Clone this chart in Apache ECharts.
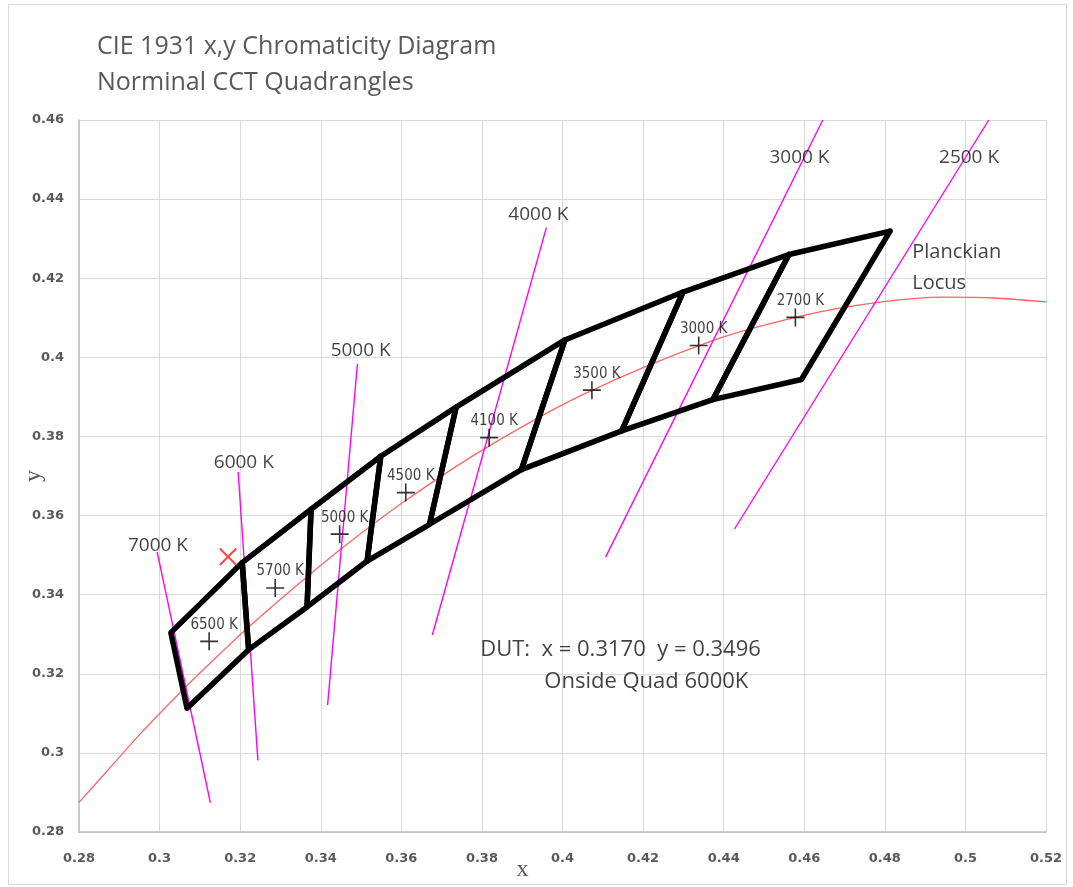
<!DOCTYPE html>
<html><head><meta charset="utf-8">
<script src="https://cdn.jsdelivr.net/npm/echarts@6/dist/echarts.min.js"></script>
<style>html,body{margin:0;padding:0;background:#fff}#c{width:1073px;height:887px}</style>
</head><body><div id="c"></div><script>
// ---- data ----
const titleLines = ['CIE 1931 x,y Chromaticity Diagram', 'Norminal CCT Quadrangles'];
const xRange = [0.28, 0.52, 0.02];
const yRange = [0.28, 0.46, 0.02];

// Planckian locus (x, y)
const locusX = [0.2800, 0.2867, 0.2952, 0.3064, 0.3135, 0.3221, 0.3325, 0.3451, 0.3608, 0.3805, 0.4053, 0.4369, 0.4599, 0.4770, 0.4950, 0.5070, 0.5200];
const locusY = [0.2875, 0.2951, 0.3048, 0.3166, 0.3236, 0.3318, 0.3410, 0.3516, 0.3636, 0.3768, 0.3907, 0.4041, 0.4106, 0.4137, 0.4152, 0.4150, 0.4140];

// Nominal CCT quadrangles (corners TR, TL, BL, BR)
const quadNames = ['6500 K', '5700 K', '5000 K', '4500 K', '4100 K', '3500 K', '3000 K', '2700 K'];
const quadCorners = [
  [[0.3205, 0.3481], [0.3028, 0.3304], [0.3068, 0.3113], [0.3221, 0.3261]],
  [[0.3376, 0.3616], [0.3205, 0.3481], [0.3221, 0.3261], [0.3366, 0.3369]],
  [[0.3549, 0.3750], [0.3376, 0.3616], [0.3366, 0.3369], [0.3515, 0.3485]],
  [[0.3736, 0.3874], [0.3549, 0.3750], [0.3515, 0.3485], [0.3670, 0.3578]],
  [[0.4006, 0.4044], [0.3736, 0.3874], [0.3670, 0.3578], [0.3898, 0.3716]],
  [[0.4299, 0.4165], [0.4006, 0.4044], [0.3898, 0.3716], [0.4147, 0.3814]],
  [[0.4562, 0.4260], [0.4299, 0.4165], [0.4147, 0.3814], [0.4373, 0.3893]],
  [[0.4813, 0.4319], [0.4562, 0.4260], [0.4373, 0.3893], [0.4593, 0.3944]]
];
const quadCenterX = [0.3123, 0.3287, 0.3447, 0.3611, 0.3818, 0.4073, 0.4338, 0.4578];
const quadCenterY = [0.3282, 0.3417, 0.3553, 0.3658, 0.3797, 0.3917, 0.4030, 0.4101];

// Isotherm lines
const isoNames = ['7000 K', '6000 K', '5000 K', '4000 K', '3000 K', '2500 K'];
const isoTopX = [0.2994, 0.3195, 0.3491, 0.3960, 0.4646, 0.5058];
const isoTopY = [0.3508, 0.3710, 0.3983, 0.4328, 0.4600, 0.4600];
const isoBotX = [0.3126, 0.3244, 0.3417, 0.3677, 0.4107, 0.4427];
const isoBotY = [0.2874, 0.2981, 0.3121, 0.3298, 0.3495, 0.3566];
const isoLabelX = [0.2996, 0.3209, 0.3499, 0.3940, 0.4588, 0.5009];
const isoLabelY = [0.3525, 0.3735, 0.4018, 0.4362, 0.4506, 0.4506];

// Device under test
const dutX = 0.3170, dutY = 0.3496;
const dutLines = ['DUT:  x = 0.3170  y = 0.3496', 'Onside Quad 6000K'];
const dutLabelX = [0.4144, 0.4208];
const dutLabelY = [0.3262, 0.3180];
const locusLabel = 'Planckian\nLocus';
const locusLabelX = 0.4868, locusLabelY = 0.4226;

// ---- chart ----
const PLUS = 'path://M8.2,0H9.8V8.2H18V9.8H9.8V18H8.2V9.8H0V8.2H8.2Z';
const CROSS = 'path://M0,1.6L1.6,0L9.5,7.9L17.4,0L19,1.6L11.1,9.5L19,17.4L17.4,19L9.5,11.1L1.6,19L0,17.4L7.9,9.5Z';
const fmt = v => String(parseFloat(v.toFixed(2)));
const txtFont = "'Open Sans', 'Liberation Sans', sans-serif";
const tickFont = "'DejaVu Sans', Verdana, sans-serif";

const series = [];
series.push({
  type: 'line', name: 'locus', data: locusX.map((x, i) => [x, locusY[i]]),
  smooth: 0.3, symbol: 'none', z: 2, silent: true,
  lineStyle: { color: '#ff6464', width: 1.3 }
});
isoNames.forEach((n, i) => series.push({
  type: 'line', name: 'iso ' + n, data: [[isoTopX[i], isoTopY[i]], [isoBotX[i], isoBotY[i]]],
  symbol: 'none', z: 3, silent: true,
  lineStyle: { color: '#ff00ff', width: 1.4 }
}));
quadCorners.forEach((q, i) => series.push({
  type: 'line', name: 'quad ' + quadNames[i], data: q.concat([q[0]]),
  symbol: 'none', z: 4, silent: true,
  lineStyle: { color: '#000', width: 5.5, join: 'round', cap: 'round' }
}));
series.push({
  type: 'scatter', name: 'centers', z: 6, silent: true,
  data: quadCenterX.map((x, i) => ({ value: [x, quadCenterY[i]], name: quadNames[i] })),
  symbol: PLUS, symbolSize: 18, itemStyle: { color: '#000' },
  label: { show: true, position: 'top', distance: 0, offset: [5, 0], formatter: p => p.name,
    fontFamily: "'Liberation Sans Narrow', 'DejaVu Sans Condensed', 'Roboto Condensed', sans-serif",
    fontSize: 15, color: '#111' }
});
series.push({
  type: 'scatter', name: 'DUT', z: 7, silent: true, data: [[dutX, dutY]],
  symbol: CROSS, symbolSize: 18, itemStyle: { color: '#ff1a1a' }
});
const textPts = [];
isoNames.forEach((n, i) => textPts.push({ value: [isoLabelX[i], isoLabelY[i]], name: n, label: { fontSize: 19 } }));
dutLines.forEach((t, i) => textPts.push({ value: [dutLabelX[i], dutLabelY[i]], name: t, label: { fontSize: 22 } }));
textPts.push({ value: [locusLabelX, locusLabelY], name: locusLabel, label: { fontSize: 20, align: 'left', lineHeight: 31 } });
series.push({
  type: 'scatter', name: 'texts', z: 8, silent: true, symbolSize: 0, data: textPts,
  label: { show: true, position: 'inside', formatter: p => p.name, color: '#111', fontFamily: txtFont }
});

const chart = echarts.init(document.getElementById('c'), null, { renderer: 'canvas' });
chart.setOption({
  animation: false,
  backgroundColor: '#fff',
  title: {
    text: titleLines.join('\n'), left: 97, top: 29, padding: 0,
    textStyle: { fontFamily: txtFont, fontSize: 25, fontWeight: 'normal', color: '#595959', lineHeight: 36 }
  },
  graphic: [{ type: 'rect', shape: { x: 8.5, y: 4.5, width: 1058, height: 880 }, style: { fill: 'none', stroke: '#d9d9d9', lineWidth: 1 }, z: -1 }],
  grid: { left: 79, right: 27, top: 120, bottom: 55, containLabel: false, outerBoundsMode: 'none' },
  xAxis: {
    type: 'value', min: xRange[0], max: xRange[1], interval: xRange[2],
    name: 'x', nameLocation: 'middle', nameGap: 26, nameMoveOverlap: false,
    nameTextStyle: { fontFamily: "'Liberation Serif', 'DejaVu Serif', serif", fontSize: 24, color: '#595959', padding: [0, 80, 0, 0] },
    axisLine: { show: true, onZero: false, lineStyle: { color: '#bfbfbf', width: 1.5 } },
    axisTick: { show: false },
    axisLabel: { formatter: fmt, margin: 20, fontFamily: tickFont, fontSize: 13, fontWeight: 'bold', color: '#595959' },
    splitLine: { show: true, lineStyle: { color: '#d9d9d9', width: 1 } }
  },
  yAxis: {
    type: 'value', min: yRange[0], max: yRange[1], interval: yRange[2],
    name: 'y', nameLocation: 'middle', nameGap: 33, nameMoveOverlap: false,
    nameTextStyle: { fontFamily: "'Liberation Serif', 'DejaVu Serif', serif", fontSize: 24, color: '#595959' },
    axisLine: { show: true, onZero: false, lineStyle: { color: '#bfbfbf', width: 1.5 } },
    axisTick: { show: false },
    axisLabel: { formatter: fmt, margin: 15, fontFamily: tickFont, fontSize: 13, fontWeight: 'bold', color: '#595959' },
    splitLine: { show: true, lineStyle: { color: '#d9d9d9', width: 1 } }
  },
  series: series
});
</script></body></html>
